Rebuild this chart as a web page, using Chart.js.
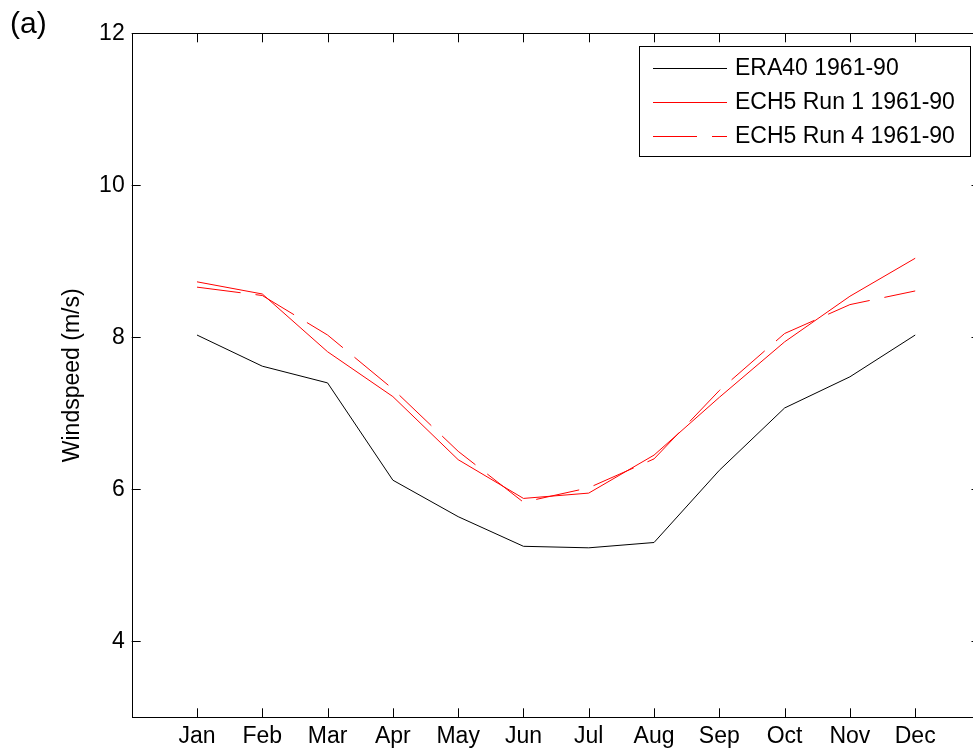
<!DOCTYPE html>
<html><head><meta charset="utf-8">
<script src="https://cdn.jsdelivr.net/npm/chart.js@4.4.0/dist/chart.umd.min.js"></script>
<style>
html,body{margin:0;padding:0;overflow:hidden;background:#fff;width:973px;height:751px;}
#wrap{position:relative;width:990px;height:751px;}
</style></head>
<body><div id="wrap"><canvas id="c" width="990" height="751"></canvas></div>
<script>
const months = ['Jan','Feb','Mar','Apr','May','Jun','Jul','Aug','Sep','Oct','Nov','Dec'];
const yTicks = [4,6,8,10,12];
const era40 = [8.03,7.62,7.40,6.12,5.64,5.25,5.23,5.30,6.25,7.07,7.48,8.03];
const ech5run1 = [8.73,8.57,7.81,7.22,6.39,5.88,5.95,6.45,7.21,7.94,8.54,9.04];
const ech5run4 = [8.66,8.55,8.03,7.32,6.50,5.83,6.02,6.40,7.30,8.05,8.43,8.61];
const seriesNames = ['ERA40 1961-90','ECH5 Run 1 1961-90','ECH5 Run 4 1961-90'];

const FONT = '"Liberation Sans", Arial, Helvetica, sans-serif';
const toPts = arr => arr.map((v,i)=>({x:i+1,y:v}));

const boxPlugin = {
  id:'box',
  afterDraw(chart){
    const ctx = chart.ctx, a = chart.chartArea;
    const xs = chart.scales.x, ys = chart.scales.y;
    ctx.save();
    ctx.strokeStyle = '#000'; ctx.lineWidth = 1;
    ctx.strokeRect(Math.round(a.left)+0.5, Math.round(a.top)+0.5, Math.round(a.right-a.left), Math.round(a.bottom-a.top));
    const L = 9;
    ctx.beginPath();
    xs.ticks.forEach((t,i)=>{
      const px = Math.round(xs.getPixelForValue(t.value))+0.5;
      ctx.moveTo(px, a.bottom); ctx.lineTo(px, a.bottom-L);
      ctx.moveTo(px, a.top); ctx.lineTo(px, a.top+L);
    });
    ys.ticks.forEach((t,i)=>{
      const py = Math.round(ys.getPixelForValue(t.value))+0.5;
      ctx.moveTo(a.left, py); ctx.lineTo(a.left+L, py);
      ctx.moveTo(a.right, py); ctx.lineTo(a.right-L, py);
    });
    ctx.stroke();
    // legend
    const lx0 = 639.5, ly0 = 46.5, lw = 331, lh = 110;
    ctx.fillStyle = '#fff';
    ctx.fillRect(lx0, ly0, lw, lh);
    ctx.strokeRect(lx0, ly0, lw, lh);
    ctx.font = '23px ' + FONT;
    ctx.textBaseline = 'middle';
    ctx.textAlign = 'left';
    chart.data.datasets.forEach((ds,i)=>{
      const y = 68 + i*34;
      ctx.strokeStyle = ds.borderColor;
      ctx.setLineDash(ds.borderDash || []);
      ctx.beginPath();
      ctx.moveTo(653, y+0.5); ctx.lineTo(727, y+0.5);
      ctx.stroke();
      ctx.setLineDash([]);
      ctx.fillStyle = '#000';
      ctx.fillText(ds.label, 735, y+1);
    });
    // panel label
    ctx.font = '30px ' + FONT;
    ctx.textBaseline = 'middle';
    ctx.fillText('(a)', 10, 25);
    ctx.restore();
  }
};

new Chart(document.getElementById('c'), {
  type:'line',
  data:{
    datasets:[
      {label:seriesNames[0], data:toPts(era40), borderColor:'#000000', borderWidth:1, pointRadius:0, fill:false, tension:0},
      {label:seriesNames[1], data:toPts(ech5run1), borderColor:'#ff0000', borderWidth:1, pointRadius:0, fill:false, tension:0},
      {label:seriesNames[2], data:toPts(ech5run4), borderColor:'#ff0000', borderWidth:1, borderDash:[44,15], pointRadius:0, fill:false, tension:0}
    ]
  },
  options:{
    responsive:false, animation:false, devicePixelRatio:1,
    layout:{padding:{left:0, top:33.3, right:9.5, bottom:0}},
    plugins:{legend:{display:false}, tooltip:{enabled:false}},
    scales:{
      x:{
        type:'linear', min:0, max:13,
        afterBuildTicks: s => { s.ticks = months.map((m,i)=>({value:i+1})); },
        afterFit: s => { s.height = 33.7; },
        grid:{display:false, drawTicks:false},
        border:{display:false},
        ticks:{autoSkip:false, maxRotation:0, padding:6, color:'#000', font:{family:FONT, size:23},
          callback:(v)=> months[v-1] || ''}
      },
      y:{
        type:'linear', min:3, max:12,
        afterBuildTicks: s => { s.ticks = yTicks.map(v=>({value:v})); },
        afterFit: s => { s.width = 131.7; },
        grid:{display:false, drawTicks:false},
        border:{display:false},
        title:{display:true, text:'Windspeed (m/s)', color:'#000', font:{family:FONT, size:23}, padding:{top:59,bottom:0}},
        ticks:{padding:7, color:'#000', font:{family:FONT, size:23}}
      }
    }
  },
  plugins:[boxPlugin]
});
</script></body></html>
